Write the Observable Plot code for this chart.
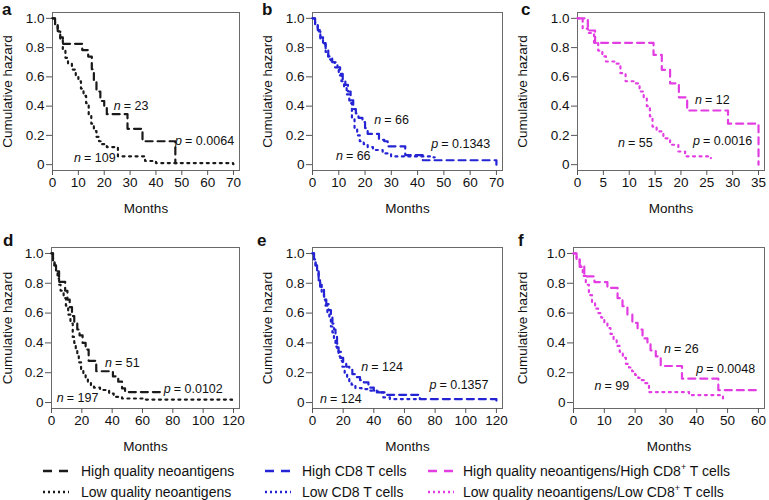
<!DOCTYPE html>
<html><head><meta charset="utf-8">
<script src="https://cdn.jsdelivr.net/npm/d3@7"></script>
<script src="https://cdn.jsdelivr.net/npm/@observablehq/plot@0.6"></script>
<style>
body{margin:0;background:#fff;font-family:"Liberation Sans",Arial,Helvetica,sans-serif;}
#root{position:relative;width:769px;height:500px;overflow:hidden;background:#fff;}
.panel{position:absolute;}
.panel svg{font-family:"Liberation Sans",Arial,sans-serif !important;font-size:13.5px !important;color:#111;overflow:visible;}
.letter{position:absolute;font-weight:bold;font-size:17px;line-height:17px;color:#111;}
.legtext{position:absolute;font-size:14px;line-height:20px;height:20px;white-space:nowrap;color:#111;}
.legtext sup{font-size:9px;vertical-align:6px;line-height:0;}
.sw{position:absolute;}
</style></head><body><div id="root"></div>
<script>
// ---- data: months (T) and survival proportion (S) for each panel ----
const aHighT = [0, 1, 2, 3, 4, 11.5, 13.8, 15.2, 16.0, 17.0, 18.5, 20.0, 21.0, 29.0, 34.8, 47.5, 47.9];
const aHighS = [1, 0.957, 0.913, 0.87, 0.826, 0.783, 0.739, 0.652, 0.565, 0.5, 0.435, 0.39, 0.345, 0.245, 0.16, 0.01, 0.01];
const aLowT = [0, 1, 2, 3, 4, 5, 6, 7.5, 9, 10, 11, 12, 13, 14, 15, 16, 17, 18, 19, 21, 25.3, 35.8, 40, 69.8, 70];
const aLowS = [1, 0.95, 0.91, 0.85, 0.79, 0.73, 0.69, 0.65, 0.61, 0.57, 0.52, 0.47, 0.42, 0.34, 0.28, 0.23, 0.19, 0.16, 0.14, 0.12, 0.057, 0.025, 0.011, 0.004, 0.004];

const bHighT = [0, 1, 2, 3, 4, 5, 6, 7.5, 9.5, 10.5, 11.5, 12.5, 13.5, 14.5, 15.5, 16.5, 17.5, 19, 20, 21, 25.3, 27.3, 28.6, 35.3, 42, 70];
const bHighS = [1, 0.97, 0.92, 0.87, 0.83, 0.79, 0.74, 0.70, 0.665, 0.62, 0.58, 0.545, 0.5, 0.44, 0.38, 0.35, 0.32, 0.29, 0.25, 0.21, 0.17, 0.16, 0.125, 0.065, 0.03, 0.0];
const bLowT = [0, 1, 2, 3, 4, 5, 6, 7, 8.5, 10, 11, 12, 13, 14, 15, 16, 17, 18, 19.5, 21, 23, 26.7, 29.9, 46, 46.5];
const bLowS = [1, 0.96, 0.91, 0.86, 0.82, 0.77, 0.72, 0.70, 0.665, 0.61, 0.57, 0.53, 0.48, 0.42, 0.32, 0.25, 0.2, 0.16, 0.14, 0.12, 0.1, 0.077, 0.056, 0.05, 0.05];

const cHighT = [0, 2, 3.4, 14.7, 16.3, 17.9, 19.6, 21.2, 29.1, 35];
const cHighS = [1, 0.917, 0.833, 0.75, 0.648, 0.555, 0.46, 0.37, 0.28, 0.0];
const cLowT = [0, 1, 2, 3.2, 4, 4.8, 5.5, 7.5, 8.3, 9.3, 11, 12, 12.8, 13.4, 14, 14.5, 15.3, 16.6, 17.9, 19.5, 20.8, 25.5, 25.8];
const cLowS = [1, 0.93, 0.9, 0.83, 0.78, 0.74, 0.705, 0.69, 0.625, 0.57, 0.555, 0.5, 0.455, 0.4, 0.33, 0.26, 0.227, 0.18, 0.136, 0.09, 0.057, 0.045, 0.045];

const dHighT = [0, 1, 2, 3, 5, 9, 10.5, 12, 13.5, 15, 17, 18.5, 20.5, 22.5, 24.5, 29.5, 40.5, 44, 46.5, 48.5, 74];
const dHighS = [1, 0.96, 0.92, 0.88, 0.81, 0.75, 0.69, 0.64, 0.58, 0.53, 0.49, 0.45, 0.4, 0.355, 0.28, 0.21, 0.175, 0.14, 0.095, 0.07, 0.07];
const dLowT = [0, 1, 2, 3, 4, 5, 6, 8, 9.5, 11, 12.5, 14, 15, 16, 17, 18, 19.5, 21, 22.5, 24, 26, 28, 32, 38, 41, 46.5, 60, 119, 120];
const dLowS = [1, 0.95, 0.91, 0.87, 0.83, 0.79, 0.75, 0.7, 0.65, 0.59, 0.53, 0.44, 0.4, 0.355, 0.31, 0.27, 0.22, 0.19, 0.16, 0.14, 0.115, 0.1, 0.084, 0.06, 0.038, 0.027, 0.02, 0.006, 0.006];

const eHighT = [0, 1, 2, 3, 4, 5, 6, 7.5, 9, 10.5, 12, 13, 14, 15, 16, 17, 18.5, 20, 22, 24, 26, 29, 31, 33.5, 36.5, 40, 43, 47.3, 70, 120];
const eHighS = [1, 0.96, 0.92, 0.88, 0.83, 0.79, 0.76, 0.71, 0.66, 0.62, 0.57, 0.53, 0.49, 0.44, 0.395, 0.34, 0.3, 0.27, 0.24, 0.22, 0.19, 0.17, 0.15, 0.135, 0.1, 0.08, 0.068, 0.052, 0.023, 0.0];
const eLowT = [0, 1, 2, 3, 4, 5, 6, 7.5, 8.5, 9.7, 11, 12, 13, 14, 15, 16, 17, 18, 19.5, 21, 22.6, 24, 25.5, 28, 32, 37.6, 42, 46.2, 50.5, 70];
const eLowS = [1, 0.96, 0.92, 0.87, 0.82, 0.77, 0.73, 0.69, 0.65, 0.6, 0.56, 0.51, 0.47, 0.42, 0.375, 0.35, 0.31, 0.28, 0.24, 0.2, 0.17, 0.14, 0.12, 0.097, 0.09, 0.08, 0.068, 0.034, 0.023, 0.023];

const fHighT = [0, 1, 2, 3.5, 6.8, 11, 14.3, 15.9, 17.5, 19.1, 20.8, 22.4, 24, 25, 26.7, 28.3, 35.2, 47, 59.5];
const fHighS = [1, 0.96, 0.92, 0.846, 0.808, 0.769, 0.70, 0.646, 0.59, 0.534, 0.49, 0.43, 0.39, 0.35, 0.31, 0.245, 0.16, 0.083, 0.083];
const fLowT = [0, 1, 2, 3, 4, 5, 6, 7, 8, 9, 10, 11, 12, 13, 14, 15, 16, 17, 18, 19, 20, 21, 22, 23, 24.5, 37.5, 48.5, 49];
const fLowS = [1, 0.96, 0.91, 0.85, 0.79, 0.72, 0.67, 0.63, 0.6, 0.57, 0.53, 0.5, 0.46, 0.42, 0.38, 0.34, 0.3, 0.26, 0.235, 0.21, 0.185, 0.165, 0.15, 0.13, 0.07, 0.05, 0.025, 0.025];

// annotations (data coordinates)
const aNoteX = [23.7, 47.4, 8.3], aNoteY = [0.40, 0.16, 0.046], aNoteK = ["n", "p", "n"], aNoteV = ["= 23", "= 0.0064", "= 109"];
const bNoteX = [23.5, 45.2, 8.9], bNoteY = [0.305, 0.142, 0.056], bNoteK = ["n", "p", "n"], bNoteV = ["= 66", "= 0.1343", "= 66"];
const cNoteX = [22.7, 22.35, 7.85], cNoteY = [0.443, 0.16, 0.148], cNoteK = ["n", "p", "n"], cNoteV = ["= 12", "= 0.0016", "= 55"];
const dNoteX = [35.3, 74, 3.5], dNoteY = [0.265, 0.088, 0.032], dNoteK = ["n", "p", "n"], dNoteV = ["= 51", "= 0.0102", "= 197"];
const eNoteX = [31.8, 76.3, 4.9], eNoteY = [0.237, 0.117, 0.023], eNoteK = ["n", "p", "n"], eNoteV = ["= 124", "= 0.1357", "= 124"];
const fNoteX = [29.4, 39.8, 6.8], fNoteY = [0.36, 0.225, 0.11], fNoteK = ["n", "p", "n"], fNoteV = ["= 26", "= 0.0048", "= 99"];

const yTicks = [0, 0.2, 0.4, 0.6, 0.8, 1.0];
const xTicksA = [0, 10, 20, 30, 40, 50, 60, 70];
const xTicksC = [0, 5, 10, 15, 20, 25, 30, 35];
const xTicksD = [0, 20, 40, 60, 80, 100, 120];
const xTicksF = [0, 10, 20, 30, 40, 50, 60];

const panelLetters = ["a", "b", "c", "d", "e", "f"];
const legendHigh = ["High quality neoantigens", "High CD8 T cells", "High quality neoantigens/High CD8<sup>+</sup> T cells"];
const legendLow = ["Low quality neoantigens", "Low CD8 T cells", "Low quality neoantigens/Low CD8<sup>+</sup> T cells"];
const colors = ["#1a1a1a", "#2424d4", "#e23de2"];

const DASH = "7,5", DOT = "2,4.5";
const zip = (T, S) => T.map((t, i) => ({t, s: S[i]}));

const panels = [
  {hT: aHighT, hS: aHighS, lT: aLowT, lS: aLowS, nx: aNoteX, ny: aNoteY, nk: aNoteK, nv: aNoteV, ticks: xTicksA, c: 0, L: 0, T: 0, fr: [52, 239, 12, 170]},
  {hT: bHighT, hS: bHighS, lT: bLowT, lS: bLowS, nx: bNoteX, ny: bNoteY, nk: bNoteK, nv: bNoteV, ticks: xTicksA, c: 1, L: 250, T: 0, fr: [312, 502, 12, 170]},
  {hT: cHighT, hS: cHighS, lT: cLowT, lS: cLowS, nx: cNoteX, ny: cNoteY, nk: cNoteK, nv: cNoteV, ticks: xTicksC, c: 2, L: 505, T: 0, fr: [577, 764, 12, 170]},
  {hT: dHighT, hS: dHighS, lT: dLowT, lS: dLowS, nx: dNoteX, ny: dNoteY, nk: dNoteK, nv: dNoteV, ticks: xTicksD, c: 0, L: 0, T: 222, fr: [51, 239, 247, 408]},
  {hT: eHighT, hS: eHighS, lT: eLowT, lS: eLowS, nx: eNoteX, ny: eNoteY, nk: eNoteK, nv: eNoteV, ticks: xTicksD, c: 1, L: 250, T: 222, fr: [312, 502, 247, 408]},
  {hT: fHighT, hS: fHighS, lT: fLowT, lS: fLowS, nx: fNoteX, ny: fNoteY, nk: fNoteK, nv: fNoteV, ticks: xTicksF, c: 2, L: 505, T: 222, fr: [573, 764, 247, 408]}
];
const letterPos = [[2, 1], [262, 1], [521, 1], [3, 232], [257, 232], [518, 232]];

const root = document.getElementById("root");

panels.forEach((p, k) => {
  const [fl, fr, ft, fb] = p.fr;
  const xmax = p.ticks[p.ticks.length - 1];
  const mR = 5, mB = 50;
  const col = colors[p.c];
  const idx = d3.range(p.nx.length);
  const chart = Plot.plot({
    width: fr - p.L + mR,
    height: fb - p.T + mB,
    marginLeft: fl - p.L,
    marginRight: mR,
    marginTop: ft - p.T,
    marginBottom: mB,
    x: {domain: [0, xmax * 1.033]},
    y: {domain: [-0.04, 1.04]},
    marks: [
      Plot.frame({stroke: "#6a6a6a", strokeWidth: 1}),
      Plot.axisX({ticks: p.ticks, tickSize: 5, tickPadding: 2, stroke: "#555", fill: "#111", fontSize: 13.5, label: "Months", labelAnchor: "center", labelOffset: 42, labelArrow: "none", tickFormat: d => String(d)}),
      Plot.axisY({ticks: yTicks, tickSize: 6, tickPadding: 2, stroke: "#555", fill: "#111", fontSize: 13.5, label: "Cumulative hazard", labelAnchor: "center", labelOffset: fl - p.L - (k % 3 === 0 ? 2 : 12), labelArrow: "none", tickFormat: d => d === 0 ? "0" : d.toFixed(1)}),
      Plot.line(zip(p.lT, p.lS), {x: "t", y: "s", curve: "step-after", stroke: col, strokeWidth: 2.2, strokeDasharray: DOT}),
      Plot.line(zip(p.hT, p.hS), {x: "t", y: "s", curve: "step-after", stroke: col, strokeWidth: 2.2, strokeDasharray: DASH}),
      Plot.text(idx, {x: i => p.nx[i], y: i => p.ny[i], text: i => p.nk[i], fontStyle: "italic", textAnchor: "start", fontSize: 12.5, fill: "#111"}),
      Plot.text(idx, {x: i => p.nx[i], y: i => p.ny[i], text: i => p.nv[i], textAnchor: "start", dx: 10, fontSize: 12.5, fill: "#111"})
    ]
  });
  const wrap = document.createElement("div");
  wrap.className = "panel";
  wrap.style.left = p.L + "px";
  wrap.style.top = p.T + "px";
  wrap.appendChild(chart);
  root.appendChild(wrap);

  const lt = document.createElement("div");
  lt.className = "letter";
  lt.textContent = panelLetters[k];
  lt.style.left = letterPos[k][0] + "px";
  lt.style.top = letterPos[k][1] + "px";
  root.appendChild(lt);
});

// legend
const legCols = [[43, 81], [265, 302], [428, 463]];
const legRows = [471, 492];
function swatch(x, cy, color, dash) {
  const ns = "http://www.w3.org/2000/svg";
  const s = document.createElementNS(ns, "svg");
  s.setAttribute("width", 26); s.setAttribute("height", 6);
  s.setAttribute("class", "sw");
  s.style.left = x + "px"; s.style.top = (cy - 3) + "px";
  const l = document.createElementNS(ns, "line");
  l.setAttribute("x1", 0); l.setAttribute("x2", 26); l.setAttribute("y1", 3); l.setAttribute("y2", 3);
  l.setAttribute("stroke", color); l.setAttribute("stroke-width", 2.4);
  l.setAttribute("stroke-dasharray", dash);
  s.appendChild(l);
  root.appendChild(s);
}
legCols.forEach(([sx, tx], i) => {
  [[legendHigh[i], "9,7"], [legendLow[i], "2,3"]].forEach(([txt, dash], r) => {
    swatch(sx, legRows[r], colors[i], dash);
    const d = document.createElement("div");
    d.className = "legtext";
    d.innerHTML = txt;
    d.style.left = tx + "px";
    d.style.top = (legRows[r] - 10) + "px";
    root.appendChild(d);
  });
});
</script></body></html>
